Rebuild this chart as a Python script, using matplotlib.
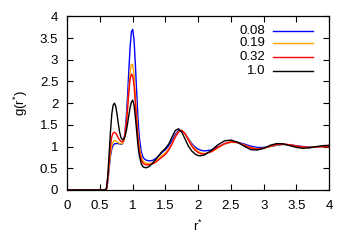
import numpy as np
import matplotlib
matplotlib.use("Agg")
import matplotlib.pyplot as plt

# --- Daten ---
r = [0.0, 0.55, 0.58, 0.60, 0.62, 0.64, 0.66, 0.68, 0.70, 0.72, 0.74, 0.76, 0.78, 0.80,
     0.82, 0.84, 0.86, 0.88, 0.90, 0.92, 0.94, 0.96, 0.98, 1.00, 1.02, 1.04, 1.06, 1.08,
     1.10, 1.13, 1.16, 1.20, 1.25, 1.30, 1.35, 1.40, 1.45, 1.50, 1.55, 1.60, 1.65, 1.70,
     1.75, 1.80, 1.85, 1.90, 1.95, 2.00, 2.05, 2.10, 2.20, 2.30, 2.40, 2.50, 2.60, 2.70,
     2.80, 2.90, 3.00, 3.10, 3.20, 3.30, 3.40, 3.50, 3.60, 3.70, 3.80, 3.90, 4.00]

g_008 = [0, 0, 0, 0.02, 0.20, 0.50, 0.78, 0.95, 1.03, 1.06, 1.07, 1.07, 1.07, 1.06,
         1.05, 1.06, 1.12, 1.30, 1.65, 2.15, 2.75, 3.30, 3.65, 3.70, 3.45, 2.90, 2.25, 1.65,
         1.22, 0.88, 0.74, 0.69, 0.67, 0.68, 0.72, 0.79, 0.87, 0.93, 1.02, 1.14, 1.28, 1.37,
         1.37, 1.30, 1.18, 1.07, 0.99, 0.94, 0.91, 0.90, 0.92, 0.99, 1.06, 1.10, 1.10, 1.06,
         1.01, 0.98, 0.98, 1.00, 1.03, 1.05, 1.04, 1.02, 1.00, 0.99, 0.99, 1.00, 1.01]

g_019 = [0, 0, 0, 0.02, 0.22, 0.55, 0.85, 1.03, 1.11, 1.14, 1.13, 1.11, 1.09, 1.07,
         1.06, 1.07, 1.12, 1.26, 1.52, 1.90, 2.35, 2.72, 2.90, 2.88, 2.65, 2.20, 1.72, 1.30,
         1.00, 0.76, 0.66, 0.62, 0.61, 0.63, 0.67, 0.73, 0.80, 0.86, 0.95, 1.08, 1.24, 1.35,
         1.37, 1.30, 1.17, 1.04, 0.95, 0.89, 0.85, 0.84, 0.88, 0.97, 1.06, 1.10, 1.09, 1.04,
         0.98, 0.95, 0.96, 1.00, 1.04, 1.05, 1.04, 1.01, 0.99, 0.98, 0.99, 1.00, 1.00]

g_032 = [0, 0, 0, 0.03, 0.28, 0.68, 1.02, 1.23, 1.31, 1.33, 1.31, 1.26, 1.20, 1.15,
         1.12, 1.11, 1.14, 1.26, 1.50, 1.85, 2.25, 2.55, 2.67, 2.63, 2.40, 2.00, 1.56, 1.18,
         0.90, 0.69, 0.61, 0.58, 0.58, 0.60, 0.64, 0.70, 0.76, 0.82, 0.92, 1.06, 1.22, 1.34,
         1.37, 1.29, 1.15, 1.01, 0.92, 0.86, 0.83, 0.83, 0.88, 0.98, 1.07, 1.11, 1.09, 1.03,
         0.97, 0.94, 0.96, 1.01, 1.05, 1.06, 1.04, 1.01, 0.99, 0.98, 0.99, 1.00, 1.00]

g_100 = [0, 0, 0, 0.05, 0.35, 0.85, 1.35, 1.75, 1.95, 2.00, 1.93, 1.75, 1.52, 1.33,
         1.21, 1.16, 1.17, 1.22, 1.35, 1.52, 1.72, 1.90, 2.03, 2.07, 1.95, 1.68, 1.35, 1.02,
         0.80, 0.60, 0.53, 0.51, 0.54, 0.61, 0.70, 0.80, 0.89, 0.96, 1.06, 1.22, 1.37, 1.41,
         1.33, 1.17, 1.01, 0.90, 0.83, 0.79, 0.79, 0.81, 0.91, 1.04, 1.13, 1.15, 1.10, 1.01,
         0.93, 0.92, 0.96, 1.03, 1.07, 1.06, 1.02, 0.98, 0.96, 0.97, 1.00, 1.02, 1.03]

labels = ["0.08", "0.19", "0.32", "1.0"]
series = [g_008, g_019, g_032, g_100]
colors = ["#0000ff", "#ffa500", "#ff0000", "#000000"]

# --- Plot ---
plt.rcParams['font.family'] = ['Liberation Sans', 'DejaVu Sans']
plt.rcParams['mathtext.fontset'] = 'custom'
plt.rcParams['mathtext.rm'] = 'Liberation Sans'
plt.rcParams['mathtext.it'] = 'Liberation Sans'

fig = plt.figure(figsize=(3.54, 2.48), dpi=100)
ax = fig.add_axes([0.190, 0.234, 0.740, 0.700])

leg_y = [0.918, 0.845, 0.764, 0.687]
for lab, g, c, ly in zip(labels, series, colors, leg_y):
    ax.plot(r, g, color=c, lw=1.0)
    ax.text(0.755, ly, lab, transform=ax.transAxes, ha='right', va='center', fontsize=9.5)
    ax.plot([0.785, 0.938], [ly, ly], transform=ax.transAxes, color=c, lw=1.0)

ax.set_xlim(0, 4)
ax.set_ylim(0, 4)
ax.set_xticks(np.arange(0, 4.01, 0.5))
ax.set_yticks(np.arange(0, 4.01, 0.5))
ax.set_xticklabels(["0", "0.5", "1", "1.5", "2", "2.5", "3", "3.5", "4"])
ax.set_yticklabels(["0", "0.5", "1", "1.5", "2", "2.5", "3", "3.5", "4"])
ax.tick_params(direction='in', top=True, right=True, length=4.5, width=0.8,
               labelsize=9.5)
ax.tick_params(axis='x', pad=7)
ax.tick_params(axis='y', pad=6.5)
for s in ax.spines.values():
    s.set_linewidth(0.9)

ax.set_xlabel(r"r$^{*}$", fontsize=9.5, labelpad=5)
ax.set_ylabel(r"g(r$^{*}$)", fontsize=9.5, labelpad=7)

fig.savefig("out.png", dpi=100)
